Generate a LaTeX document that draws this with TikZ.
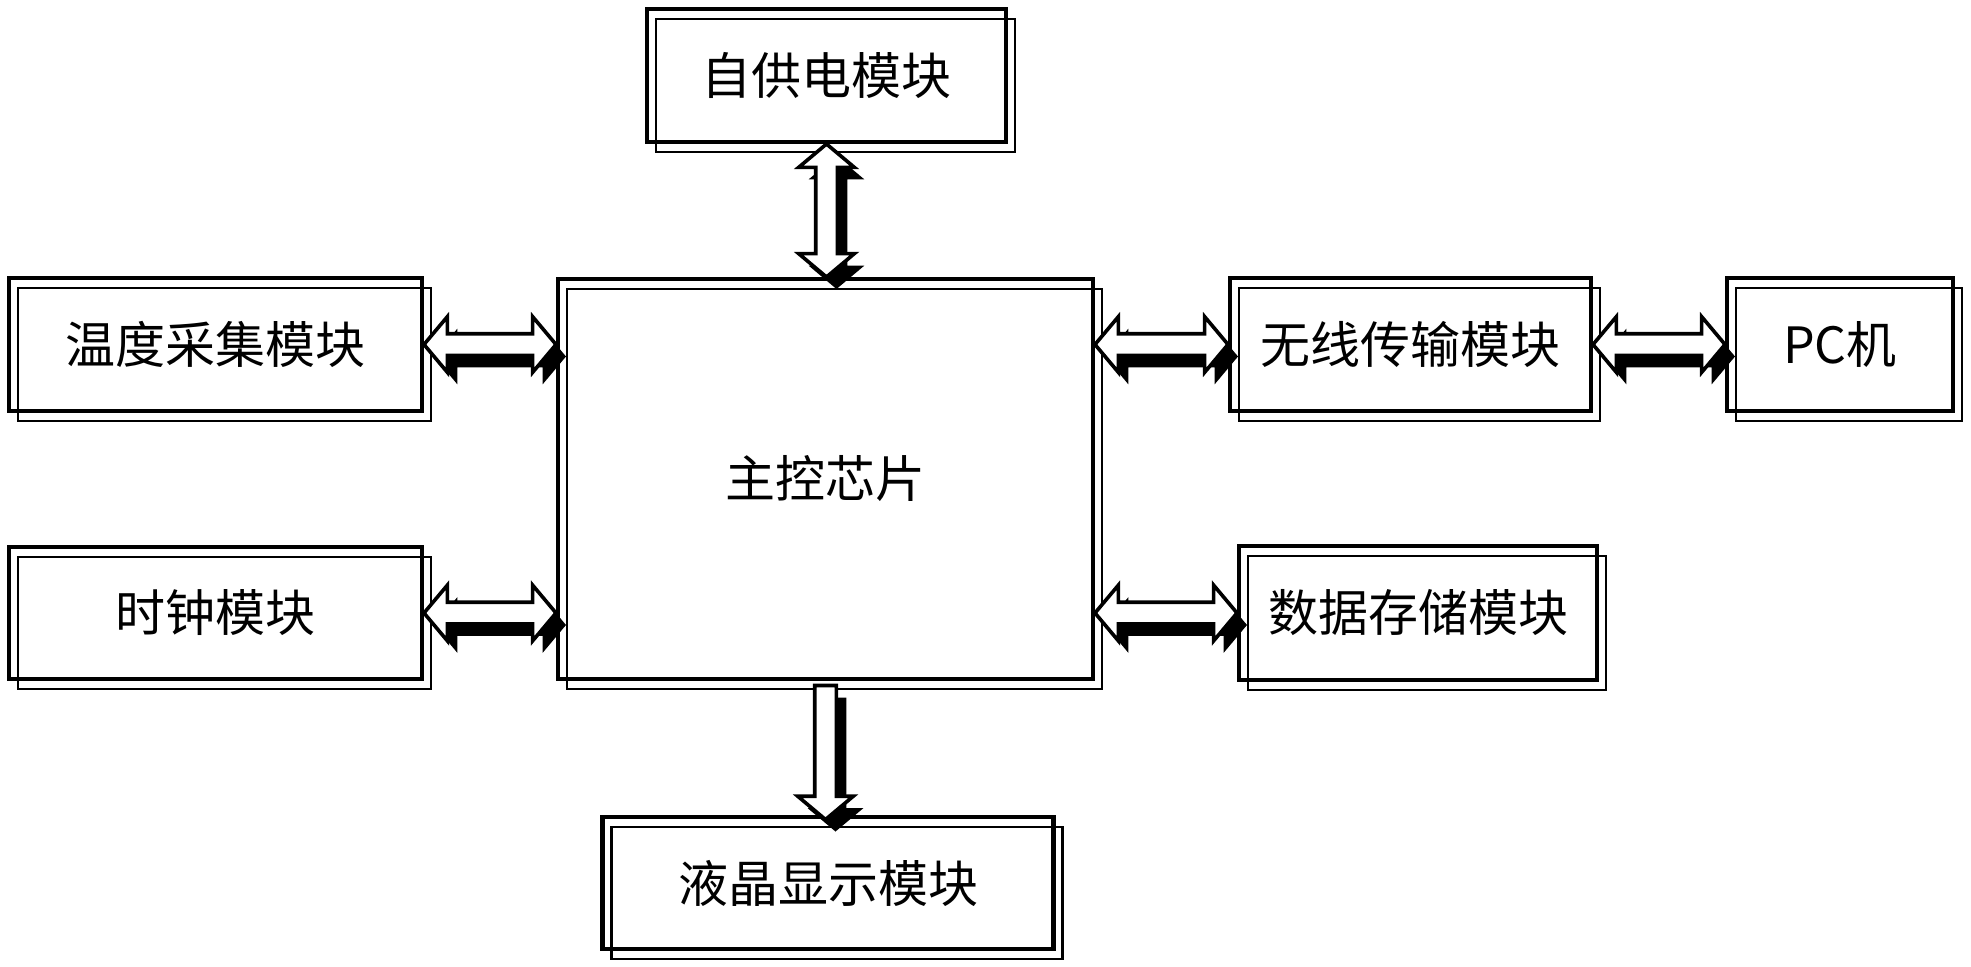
\documentclass[tikz,border=0pt]{standalone}
\usepackage{fontspec}
\newfontfamily\cjk{Noto Sans CJK SC}
\usetikzlibrary{shapes.arrows,shadows}
\tikzset{
  modbox/.style={draw, line width=2.2pt, inner sep=0pt,
    font=\cjk\fontsize{25}{30}\selectfont,
    preaction={draw, line width=1.4pt, transform canvas={shift={(4.5pt,-5pt)}}}},
  bus/.style={double arrow, draw, fill=white, line width=1.8pt,
    inner xsep=0pt, inner ysep=4.5pt, minimum height=#1,
    double arrow head extend=8.5pt, double arrow tip angle=100,
    drop shadow={fill=black, opacity=1, shadow xshift=5pt, shadow yshift=-6pt}},
  upright/.style={shape border rotate=90, inner xsep=4.5pt, inner ysep=0pt},
  feed/.style={single arrow, draw, fill=white, line width=1.8pt,
    inner xsep=4.5pt, inner ysep=0pt, minimum height=#1,
    single arrow head extend=8.5pt, single arrow tip angle=100,
    shape border rotate=270,
    drop shadow={fill=black, opacity=1, shadow xshift=5pt, shadow yshift=-6pt}}
}
\begin{document}
\begin{tikzpicture}[x=0.5pt,y=0.5pt]
\useasboundingbox (0,0) rectangle (1971,966);
% modules
\node[modbox, minimum width=179.5pt, minimum height=66.5pt] (power) at (826.5,890.5) {自供电模块};
\node[modbox, minimum width=206.5pt, minimum height=66.5pt] (temp) at (215.5,621.5) {温度采集模块};
\node[modbox, minimum width=206.5pt, minimum height=66pt] (clock) at (215.5,353) {时钟模块};
\node[modbox, minimum width=267.5pt, minimum height=200pt] (chip) at (825.5,487) {主控芯片};
\node[modbox, minimum width=180.5pt, minimum height=66.5pt] (wireless) at (1410.5,621.5) {无线传输模块};
\node[modbox, minimum width=113pt, minimum height=66.5pt] (pc) at (1840,621.5) {PC机};
\node[modbox, minimum width=179pt, minimum height=67pt] (storage) at (1418,353) {数据存储模块};
\node[modbox, minimum width=225.5pt, minimum height=66pt] (lcd) at (828,83) {液晶显示模块};
% buses
\path (power.south) -- node[bus=66.5pt, upright] {} (power.south |- chip.north);
\path (temp.east) -- node[bus=66pt] {} (temp.east -| chip.west);
\path (clock.east) -- node[bus=66pt] {} (clock.east -| chip.west);
\path (chip.east |- wireless.west) -- node[bus=66.5pt] {} (wireless.west);
\path (wireless.east) -- node[bus=66pt] {} (pc.west);
\path (chip.east |- storage.west) -- node[bus=71pt] {} (storage.west);
\path (chip.south) -- node[feed=67pt] {} (chip.south |- lcd.north);
\end{tikzpicture}
\end{document}
